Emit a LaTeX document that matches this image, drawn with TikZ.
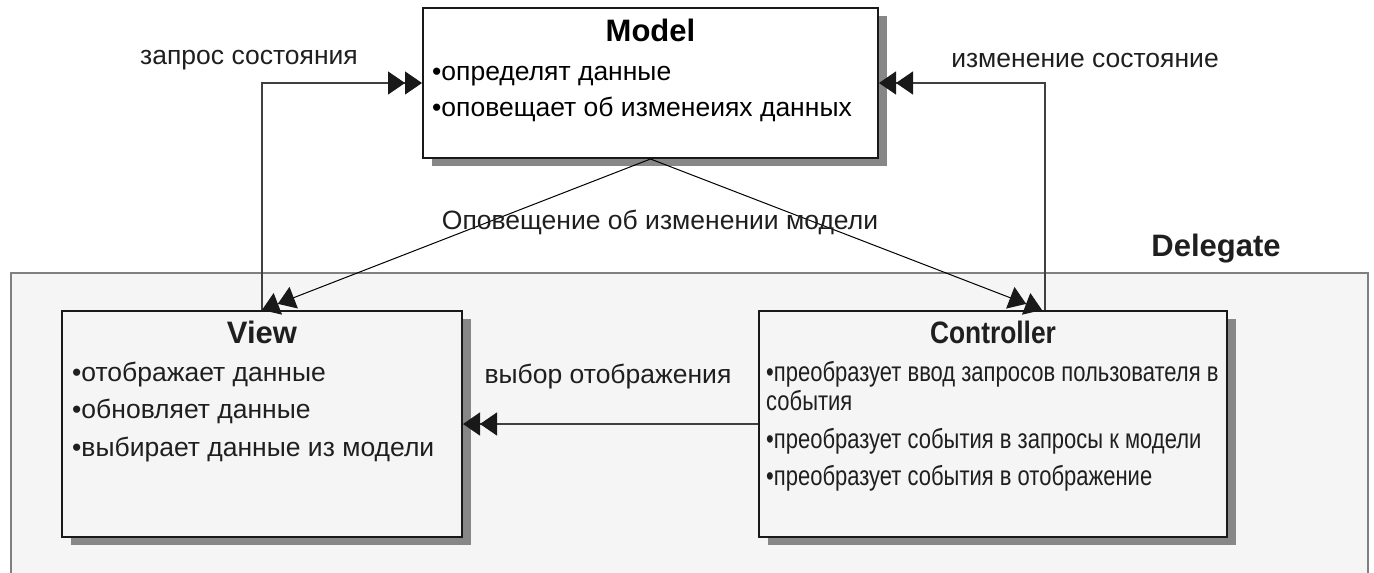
\documentclass[tikz,border=0pt]{standalone}
\usepackage{fontspec}
\setmainfont{Liberation Sans}
\newfontfamily\narrowfont[FakeStretch=0.8]{Liberation Sans}
\newfontfamily\narrowtitle[FakeStretch=0.85]{Liberation Sans}
\usetikzlibrary{arrows.meta,shadows}

\begin{document}
\begin{tikzpicture}[x=1pt,y=-1pt,
    box/.style={draw=black!90,line width=2pt,inner sep=0pt,
      drop shadow={shadow xshift=9pt,shadow yshift=-8pt,fill=black!47,opacity=1}},
    boxtitle/.style={font=\fontsize{31}{32}\selectfont\bfseries,text=black!88,anchor=base,inner sep=0pt},
    item/.style={font=\fontsize{26.5}{30}\selectfont,text=black!88,anchor=base west,inner sep=0pt},
    citem/.style={item,font=\fontsize{27.5}{30}\narrowfont},
    lbl/.style={font=\fontsize{26.5}{30}\selectfont,text=black!88,inner sep=0pt},
    link/.style={draw=black!75,line width=1.2pt,
      -{Triangle[length=17pt,width=23pt,color=black!90]Triangle[length=17pt,width=23pt,color=black!90]}}]

  \useasboundingbox (0,0) rectangle (1374,573);

  % delegate area
  \node[draw=black!50,line width=2pt,fill=black!4,minimum width=1357pt,
        minimum height=330pt,inner sep=0pt,anchor=north west] (dlg) at (10,272) {};
  \node[boxtitle] (dlgname) at (1216,256) {Delegate};

  % model
  \node[box,fill=white,minimum width=455pt,minimum height=150pt] (model) at (650.5,83) {};
  \node[boxtitle,text=black] (mtitle) at (650.5,41) {Model};
  \node[item,text=black] (m1) at (432,80)  {•определят данные};
  \node[item,text=black] (m2) at (432,116) {•оповещает об изменеиях данных};

  % view
  \node[box,fill=black!4,minimum width=400pt,minimum height=226pt] (view) at (262,424) {};
  \node[boxtitle] (vtitle) at (262,343) {View};
  \foreach \t [count=\i] in {•отображает данные,•обновляет данные,•выбирает данные из модели}
    \node[item] (v\i) at (72,{381+37.5*(\i-1)}) {\t};

  % controller
  \node[box,fill=black!4,minimum width=468pt,minimum height=226pt] (ctrl) at (993,424) {};
  \node[boxtitle,font=\fontsize{31}{32}\narrowtitle\bfseries] (ctitle) at (993,343) {Controller};
  \node[citem] (c1) at (766,381) {•преобразует ввод запросов пользователя в};
  \node[citem] (c2) at (766,410) {события};
  \node[citem] (c3) at (766,448) {•преобразует события в запросы к модели};
  \node[citem] (c4) at (766,485) {•преобразует события в отображение};

  % connectors
  \coordinate (cq) at ([xshift=52pt]ctrl.north);
  \coordinate (cn) at ([xshift=49pt]ctrl.north);
  \draw[link] (view.north) |- (model.west);
  \draw[link] (cq) |- (model.east);
  \draw[link,draw=black,line width=1pt] (model.south) -- (view.north);
  \draw[link,draw=black,line width=1pt] (model.south) -- (cn);
  \draw[link] (ctrl.west) -- (view.east);

  % labels
  \node[lbl] (lq) at (249,60)  {запрос состояния};
  \node[lbl] (lc) at (1085,60) {изменение состояние};
  \node[lbl] (ln) at (660,222) {Оповещение об изменении модели};
  \node[lbl] (ls) at (608,377) {выбор отображения};

\end{tikzpicture}
\end{document}
